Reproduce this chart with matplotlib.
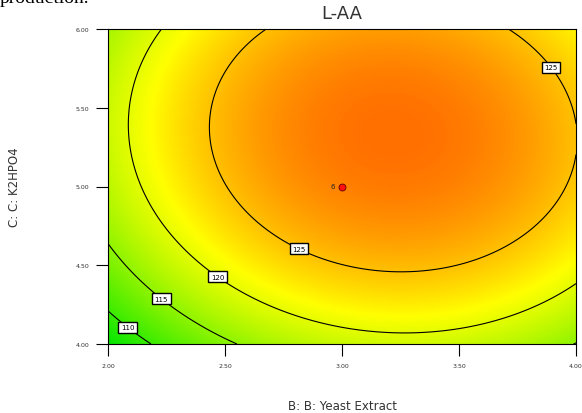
import matplotlib
matplotlib.use("Agg")
import matplotlib.pyplot as plt
import numpy as np
from matplotlib.colors import LinearSegmentedColormap

# Quadratic response-surface model for L-AA (coded factors: B = yeast - 3, C = K2HPO4 - 5)
b0 = 128.553
b_B = 3.498
b_C = 4.193
b_BC = -0.577
b_BB = -7.538
b_CC = -6.011

yeast_range = [2.0, 4.0]
k2hpo4_range = [4.0, 6.0]
levels = [110, 115, 120, 125]

x_ticks = [2.0, 2.5, 3.0, 3.5, 4.0]
x_ticklabels = ["2.00", "2.50", "3.00", "3.50", "4.00"]
y_ticks = [4.0, 4.5, 5.0, 5.5, 6.0]
y_ticklabels = ["4.00", "4.50", "5.00", "5.50", "6.00"]

design_x = [3.0]
design_y = [5.0]
design_n = ["6"]

# where the contour labels sit (data coords)
label_pos = [(2.09, 4.12), (2.235, 4.30), (2.474, 4.44), (2.82, 4.62), (3.90, 5.765)]

yeast = np.linspace(*yeast_range, 300)
k2hpo4 = np.linspace(*k2hpo4_range, 300)
X, Y = np.meshgrid(yeast, k2hpo4)
B = X - 3.0
C = Y - 5.0
Z = b0 + b_B * B + b_C * C + b_BC * B * C + b_BB * B ** 2 + b_CC * C ** 2

vmin, vmax = 106.5, 129.6
cmap = LinearSegmentedColormap.from_list(
    "de", [(0.0, (0.0, 0.90, 0.0)),
           ((121.5 - vmin) / (vmax - vmin), (1.0, 1.0, 0.0)),
           (1.0, (1.0, 0.44, 0.0))])

fig = plt.figure(figsize=(5.82, 4.14), dpi=100)
ax = fig.add_axes([108 / 582, 1 - 345 / 414, 468 / 582, 315 / 414])
ax.imshow(Z, extent=(*yeast_range, *k2hpo4_range), origin="lower", aspect="auto",
          cmap=cmap, vmin=vmin, vmax=vmax, interpolation="bilinear")
cs = ax.contour(X, Y, Z, levels=levels, colors="black", linewidths=0.8)
labels = ax.clabel(cs, fmt="%d", inline=False, fontsize=5, manual=label_pos)
for t in labels:
    t.set_rotation(0)
    t.set_bbox(dict(boxstyle="square,pad=0.35", fc="white", ec="black", lw=1.0))

ax.plot(design_x, design_y, "o", color="#ff1010", mec="#600000", mew=0.6, ms=5)
for x, y, n in zip(design_x, design_y, design_n):
    ax.annotate(n, (x, y), xytext=(-7, 0), textcoords="offset points",
                fontsize=5, ha="center", va="center", color="#222222")

ax.set_xlim(*yeast_range)
ax.set_ylim(*k2hpo4_range)
ax.set_xticks(x_ticks)
ax.set_xticklabels(x_ticklabels)
ax.set_yticks(y_ticks)
ax.set_yticklabels(y_ticklabels)
ax.tick_params(length=8.5, width=0.8, labelsize=4.5, direction="out", pad=5,
               labelcolor="#333333")
for s in ax.spines.values():
    s.set_linewidth(0.8)

ax.set_title("L-AA", fontsize=13, color="#333333", pad=8)
ax.set_xlabel("B: B: Yeast Extract", fontsize=8.5, color="#333333")
ax.set_ylabel("C: C: K2HPO4", fontsize=8.5, color="#333333")
ax.xaxis.set_label_coords(0.5, -0.175)
ax.yaxis.set_label_coords(-0.185, 0.5)

# tail of the caption text from the page above the figure
fig.text(0.0, 1 - 3 / 414, "production.", fontsize=14, family="Liberation Serif",
         va="baseline", ha="left")

fig.savefig("out.png", dpi=100)
